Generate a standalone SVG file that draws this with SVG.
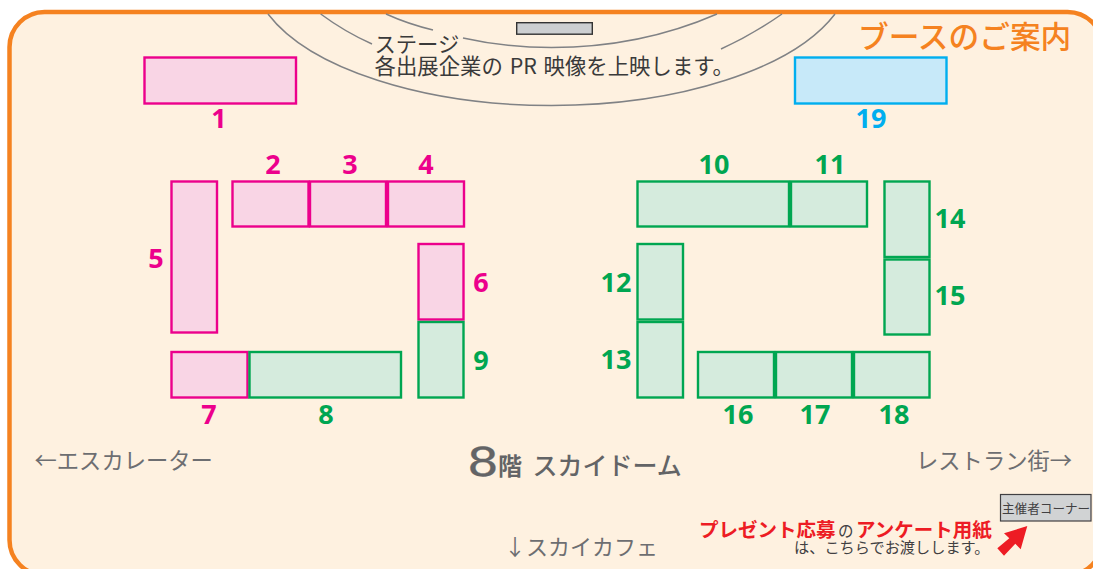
<svg xmlns="http://www.w3.org/2000/svg" width="1093" height="569" viewBox="0 0 1093 569">
<style>
text{font-family:"Noto Sans CJK JP","Noto Sans",sans-serif}
.p rect{fill:#f9d5e5;stroke:#ec008c;stroke-width:2.4}
.g rect{fill:#d5ebdd;stroke:#00a651;stroke-width:2.4}
.b rect{fill:#c7e9f9;stroke:#00aeef;stroke-width:2.4}
.p text,.g text,.b text{font-family:"Noto Sans",sans-serif;font-size:27px;font-weight:700;text-anchor:middle}
.p text{fill:#ec008c}.g text{fill:#00a651}.b text{fill:#00aeef}
.arc{fill:none;stroke:#808285;stroke-width:1.5}
.dir{font-size:22.3px;fill:#6d6e71}
</style>
<rect width="1093" height="569" fill="#fff"/>
<rect id="frame" x="9.500" y="12" width="1093" height="563" rx="35" ry="35" fill="#fef1e0" stroke="#f58220" stroke-width="4.500"/>
<g id="stage">
<path class="arc" d="M268 14A300 136 0 0 0 835 14"/>
<path class="arc" d="M320.700 14Q345 32 372 44M721 49Q752 35 782 14"/>
<path class="arc" d="M386 14Q408 24 433 30M463 38Q505 47.500 551.500 47.500Q640 47.500 717 14"/>
<rect x="516.700" y="22.700" width="75.600" height="11.500" fill="#cdcfd1" stroke="#333" stroke-width="1.400"/>
<text x="374.500" y="52" font-size="21.300" fill="#3a3a3a">ステージ</text>
<text x="374.500" y="74" font-size="21.400" word-spacing="2" fill="#3a3a3a">各出展企業の PR 映像を上映します。</text>
</g>
<text id="title" x="858" y="48" font-size="30.700" font-weight="500" fill="#f58220">ブースのご案内</text>
<g id="b1" class="p"><rect x="144.500" y="57.500" width="151.500" height="46"/><text x="219" y="128">1</text></g>
<g id="b2" class="p"><rect x="232.500" y="181.500" width="76" height="45"/><text x="273" y="174">2</text></g>
<g id="b3" class="p"><rect x="310" y="181.500" width="76" height="45"/><text x="350" y="174">3</text></g>
<g id="b4" class="p"><rect x="388" y="181.500" width="76" height="45"/><text x="426" y="174">4</text></g>
<g id="b5" class="p"><rect x="171.500" y="181.500" width="45.500" height="151"/><text x="156" y="268">5</text></g>
<g id="b6" class="p"><rect x="418.500" y="244" width="45" height="75.500"/><text x="481" y="292">6</text></g>
<g id="b7" class="p"><rect x="171.500" y="352" width="76" height="45.500"/><text x="209" y="424">7</text></g>
<g id="b8" class="g"><rect x="249.500" y="352" width="151.500" height="45.500"/><text x="326" y="424">8</text></g>
<g id="b9" class="g"><rect x="418.500" y="322" width="45" height="75.500"/><text x="481" y="370">9</text></g>
<g id="b10" class="g"><rect x="637.500" y="181.500" width="151.500" height="45"/><text x="714" y="174">10</text></g>
<g id="b11" class="g"><rect x="791" y="181.500" width="76" height="45"/><text x="830" y="174">11</text></g>
<g id="b12" class="g"><rect x="637.500" y="244" width="45.500" height="75.500"/><text x="616" y="292">12</text></g>
<g id="b13" class="g"><rect x="637.500" y="322" width="45.500" height="75.500"/><text x="616" y="369">13</text></g>
<g id="b14" class="g"><rect x="884.500" y="181.500" width="45" height="75.500"/><text x="950" y="228">14</text></g>
<g id="b15" class="g"><rect x="884.500" y="259.500" width="45" height="75"/><text x="950" y="305">15</text></g>
<g id="b16" class="g"><rect x="698" y="352" width="76" height="45.500"/><text x="738" y="424">16</text></g>
<g id="b17" class="g"><rect x="776" y="352" width="76" height="45.500"/><text x="815" y="424">17</text></g>
<g id="b18" class="g"><rect x="854" y="352" width="75.500" height="45.500"/><text x="894" y="424">18</text></g>
<g id="b19" class="b"><rect x="795" y="57.500" width="151.500" height="46"/><text x="871" y="128">19</text></g>
<text id="escalator" class="dir" x="34.500" y="469">←エスカレーター</text>
<text id="restaurant" class="dir" x="916" y="469">レストラン街→</text>
<text id="cafe" class="dir" x="504" y="555" style="font-size:22px">↓スカイカフェ</text>
<g id="floor" fill="#636466">
<text transform="translate(467 476) scale(1.28 1)" font-size="39" stroke="#636466" stroke-width="0.300" style="font-family:'DejaVu Sans',sans-serif">8</text>
<text x="498" y="475" font-size="24" font-weight="700">階</text>
<text x="532.500" y="475" font-size="25" font-weight="500">スカイドーム</text>
</g>
<g id="note">
<text x="699" y="537" font-size="19.500" font-weight="700" fill="#ed1c24">プレゼント応募</text>
<text x="838" y="537" font-size="15.500" fill="#414042">の</text>
<text x="856" y="537" font-size="19.500" font-weight="700" fill="#ed1c24">アンケート用紙</text>
<text x="794" y="553" font-size="15.200" fill="#414042">は、こちらでお渡しします。</text>
<polygon fill="#ed1c24" points="1027.300,526 1004,533.300 1009.300,538.300 997.300,548.300 1004,555.700 1015.300,543.700 1020.700,549.300"/>
</g>
<g id="corner">
<rect x="1000.500" y="494.500" width="90.500" height="26.500" fill="#d1d3d4" stroke="#414042" stroke-width="1.200"/>
<text x="1002" y="513" font-size="12.600" fill="#414042">主催者コーナー</text>
</g>
</svg>
